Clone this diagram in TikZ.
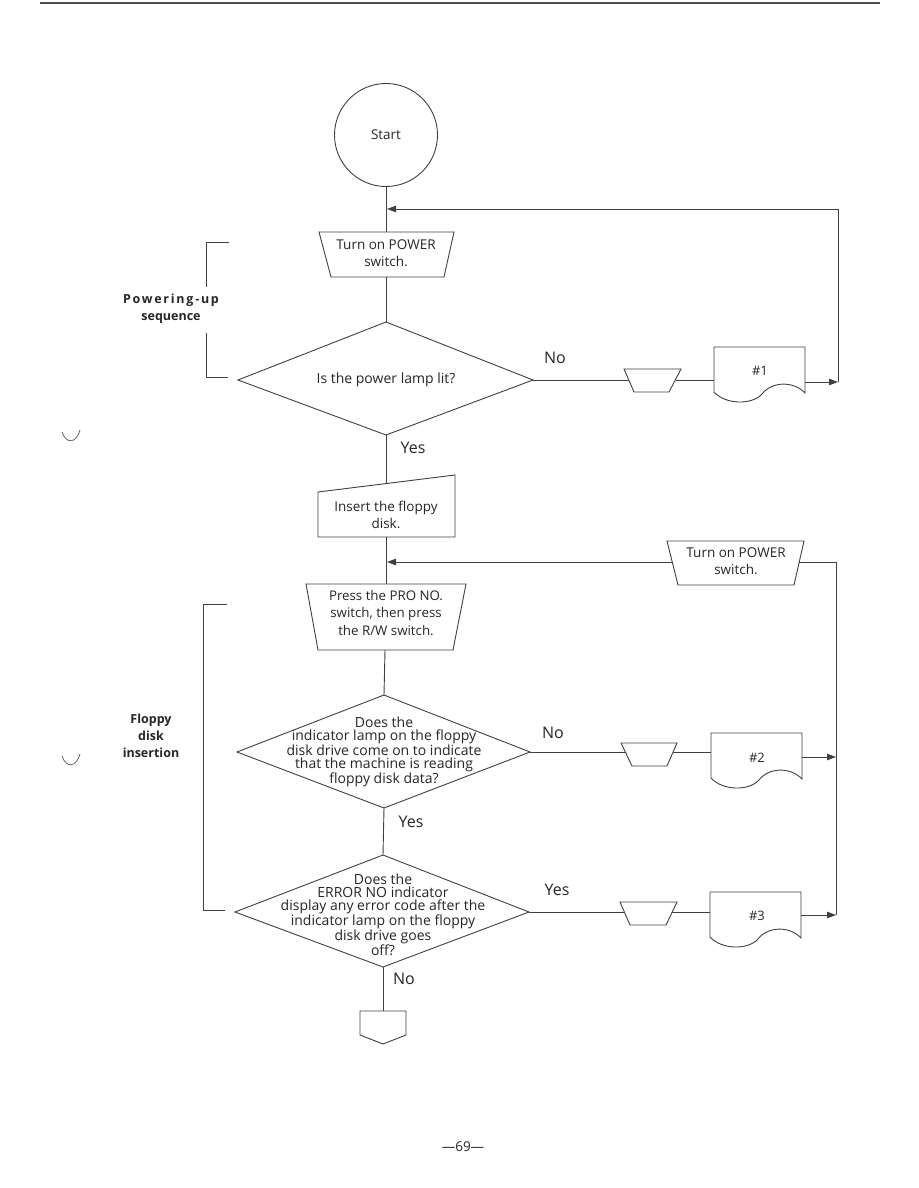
\documentclass[tikz,border=0pt]{standalone}
\usepackage{fontspec}
\setmainfont{Open Sans}
\usetikzlibrary{arrows.meta}
\begin{document}
\begin{tikzpicture}[x=1pt,y=-1pt,
  line/.style={draw=black!75, line width=0.9pt},
  flow/.style={line, -{Triangle[length=9pt,width=6.5pt]}},
  txt/.style={align=center, text=black!85, font=\fontsize{13.5}{17}\selectfont, inner sep=0pt},
  ptxt/.style={align=center, text=black!85, font=\fontsize{13.3}{17.5}\selectfont, inner sep=0pt},
  dtxt/.style={align=center, text=black!85, font=\fontsize{14}{12.7}\selectfont, inner sep=0pt},
  lbl/.style={text=black!85, font=\fontsize{16}{18}\selectfont, inner sep=0pt},
  side/.style={align=center, text=black!85, font=\fontsize{12.5}{17}\selectfont\bfseries, inner sep=0pt},
  hash/.style={text=black!85, font=\fontsize{13}{14}\selectfont, inner sep=0pt},
  docsym/.pic={\draw[line] (0,0) -- (91,0) -- (91,46) .. controls (80,34) and (58,34) .. (48,47) .. controls (38,58) and (12,58) .. (0,45) -- cycle;}
]
\fill[white] (0,0) rectangle (918,1188);
\useasboundingbox (0,0) rectangle (918,1188);
\draw[black!70, line width=1.3pt] (40,3) -- (880,3);

% ---------- start ----------
\node[line, circle, minimum size=103pt, inner sep=0pt, txt] (start) at (386,135) {Start};

% ---------- turn on power (1) ----------
\draw[line] (319,232) -- (454,232) -- (444,277) -- (331,277) -- cycle;
\coordinate (t1n) at (386,232);
\coordinate (t1s) at (386,277);
\node[txt] (t1) at (386,253) {Turn on POWER\\switch.};
\coordinate (j1) at (387,209);

% ---------- diamond 1 ----------
\coordinate (d1n) at (386,322);
\coordinate (d1e) at (533,380);
\coordinate (d1s) at (386,435);
\coordinate (d1w) at (238,380);
\draw[line] (d1n) -- (d1e) -- (d1s) -- (d1w) -- cycle;
\node[txt, font=\fontsize{14}{17}\selectfont] (q1) at (386,380) {Is the power lamp lit?};

% branch 1
\draw[line] (624,369) -- (681,369) -- (669,392) -- (634,392) -- cycle;
\coordinate (s1w) at (628.8,380);
\coordinate (s1e) at (675.5,380);
\pic (doc1) at (714,347) {docsym};
\coordinate (doc1w) at (714,380);
\coordinate (doc1e) at (805,382);
\node[hash] (h1) at (760,371) {\#1};
\coordinate (r1b) at (838,382);
\coordinate (r1t) at (838,209);
\node[lbl] (no1) at (555,358) {No};

\draw[line] (start.south) -- (t1n);
\draw[line] (t1s) -- (d1n);
\draw[line] (d1e) -- (s1w);
\draw[line] (s1e) -- (doc1w);
\draw[flow] (doc1e) -- (r1b);
\draw[flow] (r1b) -- (r1t) -- (j1);

% ---------- insert floppy ----------
\node[lbl] (yes1) at (413,448) {Yes};
\draw[line] (318,492) -- (455,475) -- (455,537) -- (318,537) -- cycle;
\coordinate (insn) at (386,483.6);
\coordinate (inss) at (386,537);
\node[txt] (ins) at (386,515) {Insert the floppy\\disk.};
\draw[line] (d1s) -- (insn);

% ---------- turn on power (2) ----------
\draw[line] (667,541) -- (804,541) -- (794,585) -- (678,585) -- cycle;
\coordinate (t2w) at (672.3,562);
\coordinate (t2e) at (799.2,562);
\node[txt] (t2) at (736,561) {Turn on POWER\\switch.};
\coordinate (j2) at (387,562);
\coordinate (r2t) at (836,562);
\coordinate (r2b) at (836,915);
\coordinate (r2m) at (836,757);

% ---------- press PRO NO ----------
\draw[line] (306,584) -- (466,584) -- (453,650) -- (318,650) -- cycle;
\coordinate (prn) at (386,584);
\coordinate (prs) at (385,650);
\node[ptxt] (pr) at (386,613) {Press the PRO NO.\\switch, then press\\the R/W switch.};
\draw[line] (inss) -- (prn);
\draw[flow] (t2w) -- (j2);
\draw[line] (t2e) -- (r2t) -- (r2b);

% ---------- diamond 2 ----------
\coordinate (d2n) at (384,695);
\coordinate (d2e) at (530,752);
\coordinate (d2s) at (384,808);
\coordinate (d2w) at (237,752);
\draw[line] (d2n) -- (d2e) -- (d2s) -- (d2w) -- cycle;
\node[dtxt] (q2) at (384,752) {Does the\\indicator lamp on the floppy\\disk drive come on to indicate\\that the machine is reading\\floppy disk data?};
\draw[line] (prs) -- (d2n);
\node[lbl] (no2) at (553,733) {No};
\draw[line] (621,743) -- (677,743) -- (667,766) -- (632,766) -- cycle;
\coordinate (s2w) at (625.3,752);
\coordinate (s2e) at (673,752);
\pic (doc2) at (711,733) {docsym};
\coordinate (doc2w) at (711,752);
\coordinate (doc2e) at (802,757);
\node[hash] (h2) at (757,758) {\#2};
\draw[line] (d2e) -- (s2w);
\draw[line] (s2e) -- (doc2w);
\draw[flow] (doc2e) -- (r2m);
\node[lbl] (yes2) at (411,822) {Yes};

% ---------- diamond 3 ----------
\coordinate (d3n) at (383,855);
\coordinate (d3e) at (529,912);
\coordinate (d3s) at (383,967);
\coordinate (d3w) at (235,912);
\draw[line] (d3n) -- (d3e) -- (d3s) -- (d3w) -- cycle;
\node[dtxt] (q3) at (383,915) {Does the\\ERROR NO indicator\\display any error code after the\\indicator lamp on the floppy\\disk drive goes\\off?};
\draw[line] (d2s) -- (d3n);
\node[lbl] (yes3) at (557,890) {Yes};
\draw[line] (620,902) -- (677,902) -- (666,925) -- (630,925) -- cycle;
\coordinate (s3w) at (624.3,912);
\coordinate (s3e) at (672.2,912);
\pic (doc3) at (710,892) {docsym};
\coordinate (doc3w) at (710,912);
\coordinate (doc3e) at (801,915);
\node[hash] (h3) at (757,916) {\#3};
\draw[line] (d3e) -- (s3w);
\draw[line] (s3e) -- (doc3w);
\draw[flow] (doc3e) -- (r2b);

% ---------- off-page connector ----------
\node[lbl] (no3) at (404,979) {No};
\draw[line] (360,1011) -- (406,1011) -- (406,1035) -- (383,1044) -- (360,1035) -- cycle;
\coordinate (offn) at (383,1011);
\draw[line] (d3s) -- (offn);

% ---------- brackets ----------
\draw[line] (229,242) -- (206,242) -- (206,287);
\draw[line] (206,333) -- (206,377) -- (228,377);
\node[side] (pw) at (171,309) {\addfontfeature{LetterSpace=14}Powering-up\\sequence};
\draw[line] (227,604) -- (203,604) -- (203,910) -- (225,910);
\node[side] (fl) at (151,736) {Floppy\\disk\\insertion};

% ---------- page number and punch marks ----------
\node[txt] (pg) at (463,1147) {—69—};
\draw[black!60, line width=0.8pt] (62,432) .. controls (66,444) and (76,444) .. (80,430);
\draw[black!60, line width=0.8pt] (62,756) .. controls (66,768) and (76,768) .. (80,754);
\end{tikzpicture}
\end{document}
